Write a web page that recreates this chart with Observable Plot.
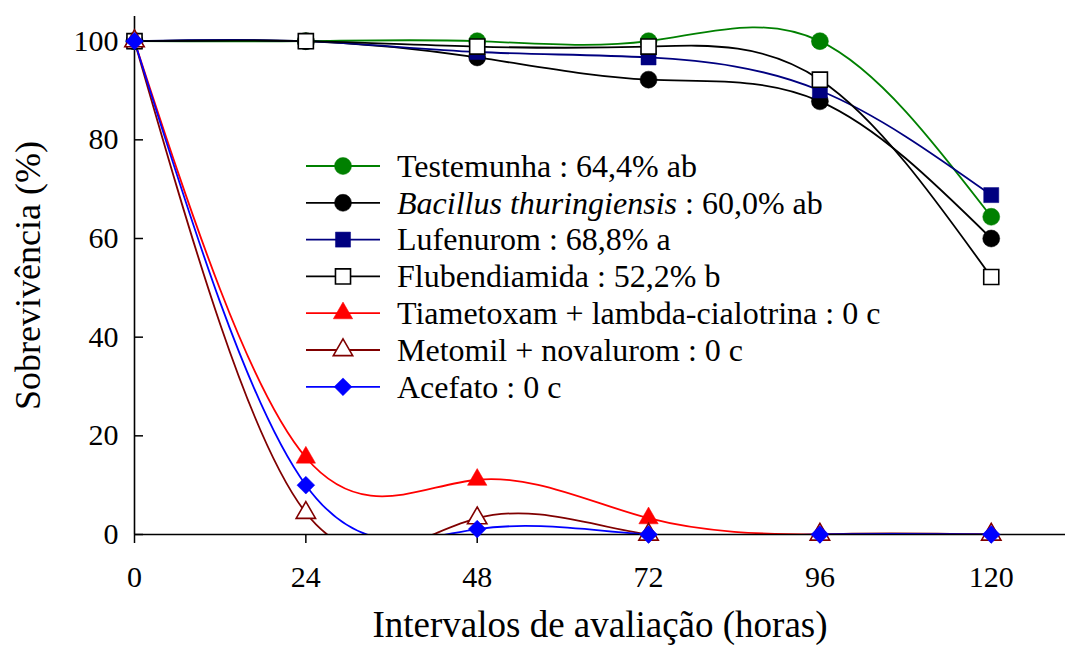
<!DOCTYPE html>
<html>
<head>
<meta charset="utf-8">
<script src="https://cdn.jsdelivr.net/npm/d3@7"></script>
<script src="https://cdn.jsdelivr.net/npm/@observablehq/plot@0.6"></script>
<style>
  html, body { margin: 0; padding: 0; background: white; }
  #chart { position: relative; width: 1065px; height: 645px; }
  #chart svg text { font-family: "Liberation Serif", "Times New Roman", serif; }
</style>
</head>
<body>
<div id="chart"></div>
<script>
const hours = [0, 24, 48, 72, 96, 120];
const xTicks = [0, 24, 48, 72, 96, 120];
const yTicks = [0, 20, 40, 60, 80, 100];

const seriesNames = [
  "Testemunha",
  "Bacillus thuringiensis",
  "Lufenurom",
  "Flubendiamida",
  "Tiametoxam + lambda-cialotrina",
  "Metomil + novalurom",
  "Acefato"
];
const legendSuffix = [
  " : 64,4% ab",
  " : 60,0% ab",
  " : 68,8% a",
  " : 52,2% b",
  " : 0 c",
  " : 0 c",
  " : 0 c"
];
const testemunha    = [100, 100, 100, 100, 100, 64.4];
const bacillus      = [100, 100, 96.7, 92.2, 87.8, 60.0];
const lufenurom     = [100, 100, 97.8, 96.7, 90.0, 68.8];
const flubendiamida = [100, 100, 98.9, 98.9, 92.2, 52.2];
const tiametoxam    = [100, 15.6, 11.1, 3.3, 0, 0];
const metomil       = [100, 4.4, 3.3, 0, 0, 0];
const acefato       = [100, 10.0, 1.1, 0, 0, 0];
const seriesValues = [testemunha, bacillus, lufenurom, flubendiamida, tiametoxam, metomil, acefato];

const strokeColors = ["#008000", "#000000", "#000080", "#000000", "#ff0000", "#800000", "#0000ff"];
const fillColors   = ["#008000", "#000000", "#000080", "#ffffff", "#ff0000", "#ffffff", "#0000ff"];
const symbols      = ["circle", "circle", "square", "square", "triangle", "triangle", "diamond2"];
const radii        = [8.5, 8.5, 8.5, 8.5, 7.2, 7.2, 8];

const rows = [];
seriesNames.forEach((name, i) => {
  hours.forEach((h, j) => rows.push({series: i, name, hour: h, value: seriesValues[i][j]}));
});

const hollow = i => i === 3 || i === 5;

const lineMarks = seriesNames.map((_, i) =>
  Plot.line(rows.filter(d => d.series === i), {
    x: "hour", y: "value", stroke: strokeColors[i], strokeWidth: 1.8,
    curve: "natural", clip: true
  })
);
const dotMarks = seriesNames.map((_, i) =>
  Plot.dot(rows.filter(d => d.series === i), {
    x: "hour", y: "value", symbol: () => symbols[i], r: radii[i],
    fill: fillColors[i], stroke: hollow(i) ? strokeColors[i] : fillColors[i],
    strokeWidth: hollow(i) ? 1.6 : 0.5
  })
);

const serif = "Liberation Serif";

const chart = Plot.plot({
  width: 1065,
  height: 645,
  marginLeft: 134,
  marginRight: 0,
  marginTop: 16,
  marginBottom: 111,
  x: {domain: [0, 130.4]},
  y: {domain: [0, 105]},
  symbol: {type: "identity"},
  style: {fontFamily: serif, fontSize: "30px", background: "white", color: "black", overflow: "visible"},
  marks: [
    Plot.axisX({ticks: xTicks, tickSize: 9, tickPadding: 22, label: null, tickFormat: d => String(d), strokeWidth: 1.5, fontFamily: serif, fontSize: 30}),
    Plot.axisY({ticks: yTicks, tickSize: -9, tickPadding: 25, label: null, tickFormat: d => String(d), strokeWidth: 1.5, fontFamily: serif, fontSize: 30}),
    ...lineMarks,
    Plot.ruleX([0], {strokeWidth: 1.6}),
    Plot.ruleY([0], {strokeWidth: 1.6}),
    ...dotMarks,
    Plot.text(["Sobrevivência (%)"], {frameAnchor: "left", rotate: -90, dx: -106, fontSize: 36, fontFamily: serif, lineAnchor: "middle", textAnchor: "middle"}),
    Plot.text(["Intervalos de avaliação (horas)"], {frameAnchor: "bottom", dy: 91, fontSize: 37, fontFamily: serif, lineAnchor: "middle", textAnchor: "middle"})
  ]
});

// legend overlay inside the plot
const svg = d3.select(chart);
const lg = svg.append("g").attr("font-family", serif).attr("font-size", 32).attr("text-anchor", "start");
const symMap = {circle: d3.symbolCircle, square: d3.symbolSquare, triangle: d3.symbolTriangle, diamond2: d3.symbolDiamond2};
seriesNames.forEach((name, i) => {
  const y = 166 + 36.8 * i;
  lg.append("line").attr("x1", 306).attr("x2", 380).attr("y1", y).attr("y2", y)
    .attr("stroke", strokeColors[i]).attr("stroke-width", 1.8);
  lg.append("path")
    .attr("d", d3.symbol(symMap[symbols[i]], Math.PI * radii[i] * radii[i])())
    .attr("transform", `translate(343,${y})`)
    .attr("fill", fillColors[i])
    .attr("stroke", hollow(i) ? strokeColors[i] : fillColors[i])
    .attr("stroke-width", hollow(i) ? 1.6 : 0.5);
  const t = lg.append("text").attr("x", 397).attr("y", y).attr("dy", "0.34em")
    .attr("fill", "black").attr("text-anchor", "start");
  if (i === 1) {
    t.append("tspan").attr("font-style", "italic").text(name);
  } else {
    t.append("tspan").text(name);
  }
  t.append("tspan").text(legendSuffix[i]);
});

document.getElementById("chart").appendChild(chart);
</script>
</body>
</html>
